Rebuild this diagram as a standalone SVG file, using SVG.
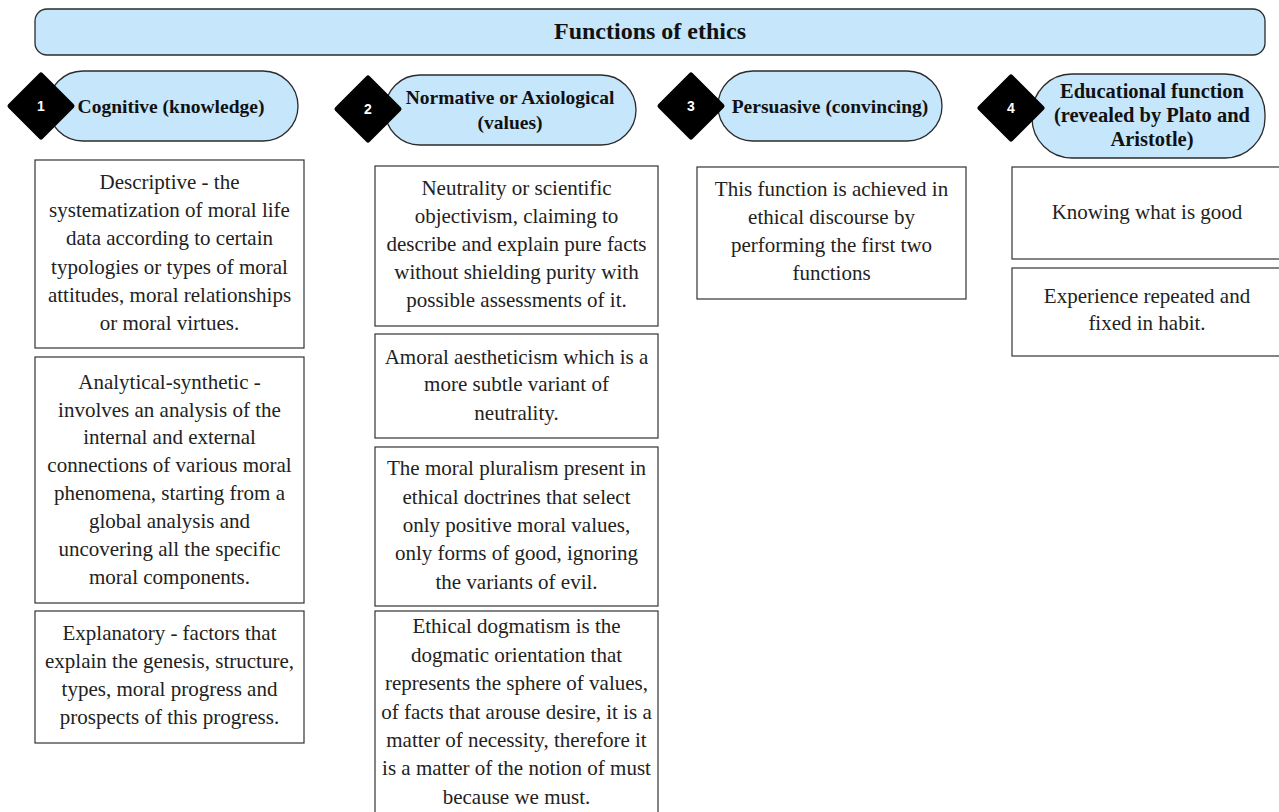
<svg xmlns="http://www.w3.org/2000/svg" width="1279" height="812" viewBox="0 0 1279 812">
<style>
.pill{fill:#c5e6fb;stroke:#2b2b2b;stroke-width:1.3}
.dia{fill:#000;stroke:#000;stroke-width:5;stroke-linejoin:round}
.num{font-family:"Liberation Sans",Arial,sans-serif;font-weight:bold;font-size:14px;fill:#fff;text-anchor:middle;dominant-baseline:central}
.hd{font-family:"Liberation Serif","Times New Roman",serif;font-weight:bold;font-size:19.5px;fill:#111;text-anchor:middle;dominant-baseline:central}
.box{fill:#fff;stroke:#333;stroke-width:1.2}
.tx{font-family:"Liberation Serif","Times New Roman",serif;font-size:21px;fill:#222;text-anchor:middle;dominant-baseline:central}
</style>
<rect width="1279" height="812" fill="#fff"/>
<g id="title">
<rect class="pill" x="35" y="9" width="1230" height="46" rx="12"/>
<text class="hd" x="650" y="31" style="font-size:24px">Functions of ethics</text>
</g>
<g id="h1">
<rect class="pill" x="48" y="71" width="250" height="70" rx="35"/>
<polygon class="dia" points="41,75 72,106 41,137 10,106"/>
<text class="num" x="41" y="106">1</text>
<text class="hd" x="171" y="106">Cognitive (knowledge)</text>
</g>
<g id="h2">
<rect class="pill" x="385" y="75" width="251" height="70" rx="35"/>
<polygon class="dia" points="368,78 399,109 368,140 337,109"/>
<text class="num" x="368" y="109">2</text>
<text class="hd" x="510" y="97">Normative or Axiological</text>
<text class="hd" x="510" y="122">(values)</text>
</g>
<g id="h3">
<rect class="pill" x="718" y="71" width="224" height="70" rx="35"/>
<polygon class="dia" points="691,75 722,106 691,137 660,106"/>
<text class="num" x="691" y="106">3</text>
<text class="hd" x="830" y="106">Persuasive (convincing)</text>
</g>
<g id="h4">
<rect class="pill" x="1032" y="74" width="233" height="84" rx="40"/>
<polygon class="dia" points="1011,77 1042,108 1011,139 980,108"/>
<text class="num" x="1011" y="108">4</text>
<text class="hd" x="1152" y="91" style="font-size:20.5px">Educational function</text>
<text class="hd" x="1152" y="115" style="font-size:20.5px">(revealed by Plato and</text>
<text class="hd" x="1152" y="139" style="font-size:20.5px">Aristotle)</text>
</g>
<g id="c1a">
<rect class="box" x="35" y="160" width="269" height="188"/>
<text class="tx" x="169.5" y="182">Descriptive - the</text>
<text class="tx" x="169.5" y="210">systematization of moral life</text>
<text class="tx" x="169.5" y="238">data according to certain</text>
<text class="tx" x="169.5" y="267">typologies or types of moral</text>
<text class="tx" x="169.5" y="295">attitudes, moral relationships</text>
<text class="tx" x="169.5" y="323">or moral virtues.</text>
</g>
<g id="c1b">
<rect class="box" x="35" y="357" width="269" height="246"/>
<text class="tx" x="169.5" y="382">Analytical-synthetic -</text>
<text class="tx" x="169.5" y="410">involves an analysis of the</text>
<text class="tx" x="169.5" y="437">internal and external</text>
<text class="tx" x="169.5" y="465">connections of various moral</text>
<text class="tx" x="169.5" y="493">phenomena, starting from a</text>
<text class="tx" x="169.5" y="521">global analysis and</text>
<text class="tx" x="169.5" y="549">uncovering all the specific</text>
<text class="tx" x="169.5" y="577">moral components.</text>
</g>
<g id="c1c">
<rect class="box" x="35" y="611" width="269" height="132"/>
<text class="tx" x="169.5" y="633">Explanatory - factors that</text>
<text class="tx" x="169.5" y="661">explain the genesis, structure,</text>
<text class="tx" x="169.5" y="689">types, moral progress and</text>
<text class="tx" x="169.5" y="717">prospects of this progress.</text>
</g>
<g id="c2a">
<rect class="box" x="375" y="166" width="283" height="160"/>
<text class="tx" x="516.5" y="188">Neutrality or scientific</text>
<text class="tx" x="516.5" y="216">objectivism, claiming to</text>
<text class="tx" x="516.5" y="244">describe and explain pure facts</text>
<text class="tx" x="516.5" y="272">without shielding purity with</text>
<text class="tx" x="516.5" y="300">possible assessments of it.</text>
</g>
<g id="c2b">
<rect class="box" x="375" y="334" width="283" height="104"/>
<text class="tx" x="516.5" y="357">Amoral aestheticism which is a</text>
<text class="tx" x="516.5" y="384">more subtle variant of</text>
<text class="tx" x="516.5" y="413">neutrality.</text>
</g>
<g id="c2c">
<rect class="box" x="375" y="447" width="283" height="159"/>
<text class="tx" x="516.5" y="468">The moral pluralism present in</text>
<text class="tx" x="516.5" y="497">ethical doctrines that select</text>
<text class="tx" x="516.5" y="525">only positive moral values,</text>
<text class="tx" x="516.5" y="553">only forms of good, ignoring</text>
<text class="tx" x="516.5" y="582">the variants of evil.</text>
</g>
<g id="c2d">
<rect class="box" x="375" y="611" width="283" height="210"/>
<text class="tx" x="516.5" y="626">Ethical dogmatism is the</text>
<text class="tx" x="516.5" y="655">dogmatic orientation that</text>
<text class="tx" x="516.5" y="683">represents the sphere of values,</text>
<text class="tx" x="516.5" y="712">of facts that arouse desire, it is a</text>
<text class="tx" x="516.5" y="740">matter of necessity, therefore it</text>
<text class="tx" x="516.5" y="768">is a matter of the notion of must</text>
<text class="tx" x="516.5" y="797">because we must.</text>
</g>
<g id="c3a">
<rect class="box" x="697" y="167" width="269" height="132"/>
<text class="tx" x="831.5" y="189">This function is achieved in</text>
<text class="tx" x="831.5" y="217">ethical discourse by</text>
<text class="tx" x="831.5" y="245">performing the first two</text>
<text class="tx" x="831.5" y="273">functions</text>
</g>
<g id="c4a">
<rect class="box" x="1012" y="167" width="272" height="92"/>
<text class="tx" x="1147" y="212">Knowing what is good</text>
</g>
<g id="c4b">
<rect class="box" x="1012" y="268" width="272" height="88"/>
<text class="tx" x="1147" y="296">Experience repeated and</text>
<text class="tx" x="1147" y="323">fixed in habit.</text>
</g>
<g id="connectors"></g>
</svg>
